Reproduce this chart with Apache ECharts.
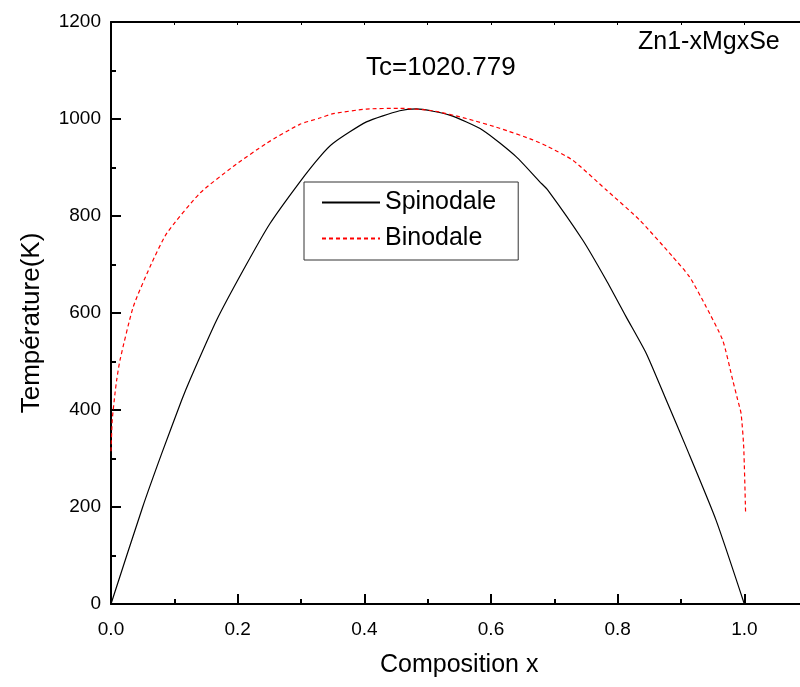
<!DOCTYPE html>
<html>
<head>
<meta charset="utf-8">
<script src="https://cdn.jsdelivr.net/npm/echarts@6/dist/echarts.min.js"></script>
<style>
html,body{margin:0;padding:0;background:#fff;}
#chart{width:800px;height:687px;}
</style>
</head>
<body>
<div id="chart"></div>
<script>
// Data
var seriesNames = ['Spinodale', 'Binodale'];
var spinodaleX = [0.0, 0.05, 0.08, 0.1115, 0.1246, 0.1667, 0.2087, 0.2508, 0.298, 0.3297, 0.3507, 0.4033, 0.4558, 0.482, 0.5347, 0.587, 0.64, 0.6767, 0.69, 0.745, 0.7818, 0.8134, 0.845, 0.8765, 0.908, 0.9553, 1.0];
var spinodaleT = [0, 200, 310, 420, 462, 585, 688, 784, 870, 922, 950, 994, 1017, 1020.8, 1008, 977, 922, 871, 853, 750, 668, 592, 517, 421, 324, 173, 0];
var binodaleX = [0.0, 0.002, 0.0063, 0.009, 0.0142, 0.0352, 0.0615, 0.0879, 0.1404, 0.1929, 0.2456, 0.298, 0.3297, 0.3507, 0.4033, 0.4558, 0.508, 0.561, 0.6136, 0.666, 0.69, 0.729, 0.7818, 0.8344, 0.8869, 0.9132, 0.9396, 0.9658, 0.9816, 0.9895, 0.9948, 0.999, 1.002];
var binodaleT = [315, 380, 434, 462, 503, 613, 695, 764, 847, 902, 950, 989, 1002, 1011, 1020.5, 1022, 1017, 1001, 981, 957, 943, 915, 854, 792, 716, 675, 613, 544, 462, 421, 393, 324, 187];
var xTicks = [0, 0.2, 0.4, 0.6, 0.8, 1.0];
var yTicks = [0, 200, 400, 600, 800, 1000, 1200];
var titleText = 'Tc=1020.779';
var compoundText = 'Zn1-xMgxSe';
var xAxisName = 'Composition x';
var yAxisName = 'Température(K)';

function pairs(xs, ys) {
  var out = [];
  for (var i = 0; i < xs.length; i++) out.push([xs[i], ys[i]]);
  return out;
}

var FONT = 'Liberation Sans, Arial, sans-serif';
var chart = echarts.init(document.getElementById('chart'), null, {renderer: 'canvas'});
chart.setOption({
  backgroundColor: '#fff',
  animation: false,
  grid: {left: 111, top: 22, right: -71, bottom: 83, containLabel: false, outerBoundsMode: 'none'},
  legend: {
    data: seriesNames,
    orient: 'vertical',
    left: 304, top: 182,
    itemWidth: 58, itemHeight: 14, itemGap: 11,
    padding: [8, 22, 9, 17],
    borderColor: '#333', borderWidth: 1,
    backgroundColor: '#fff',
    itemStyle: {opacity: 0},
    textStyle: {fontSize: 25, fontFamily: FONT, color: '#000'}
  },
  graphic: [
    {type: 'text', left: 366, top: 55, style: {text: titleText, font: '26px ' + FONT, fill: '#000'}},
    {type: 'text', left: 638, top: 30, style: {text: compoundText, font: '25px ' + FONT, fill: '#000'}},
    {type: 'text', left: 380, top: 653, style: {text: xAxisName, font: '25px ' + FONT, fill: '#000'}}
  ],
  xAxis: [{
    type: 'value', position: 'bottom', min: 0, max: 1.2, interval: 0.2,
    axisLine: {show: true, onZero: false, lineStyle: {color: '#000', width: 2}},
    axisTick: {show: true, inside: true, length: 10, lineStyle: {color: '#000', width: 2}},
    minorTick: {show: true, splitNumber: 2, length: 5, lineStyle: {color: '#000', width: 2}},
    splitLine: {show: false},
    axisLabel: {
      margin: 16, fontSize: 19, fontFamily: FONT, color: '#000',
      formatter: function (v) { return xTicks.indexOf(Math.round(v * 10) / 10) >= 0 ? v.toFixed(1) : ''; }
    }
  }, {
    type: 'value', position: 'top', min: 0, max: 1.2, interval: 0.1,
    axisLine: {show: true, onZero: false, lineStyle: {color: '#000', width: 2}},
    axisTick: {show: true, inside: true, length: 3, lineStyle: {color: '#000', width: 1}},
    splitLine: {show: false},
    axisLabel: {show: false}
  }],
  yAxis: {
    type: 'value', min: 0, max: 1200, interval: 200,
    name: yAxisName, nameLocation: 'middle', nameGap: 66, nameRotate: 90,
    nameTextStyle: {fontSize: 26, fontFamily: FONT, color: '#000', padding: [0, 20, 0, 0]},
    axisLine: {show: true, onZero: false, lineStyle: {color: '#000', width: 2}},
    axisTick: {show: true, inside: true, length: 10, lineStyle: {color: '#000', width: 2}},
    minorTick: {show: true, splitNumber: 2, length: 5, lineStyle: {color: '#000', width: 2}},
    splitLine: {show: false},
    axisLabel: {
      margin: 10, fontSize: 19, fontFamily: FONT, color: '#000',
      formatter: function (v) { return yTicks.indexOf(v) >= 0 ? String(v) : ''; }
    }
  },
  series: [{
    name: seriesNames[0], type: 'line', xAxisIndex: 0,
    data: pairs(spinodaleX, spinodaleT),
    showSymbol: false, symbol: 'none', smooth: 0.2,
    lineStyle: {color: '#000', width: 1.2},
    itemStyle: {color: '#000'}
  }, {
    name: seriesNames[1], type: 'line', xAxisIndex: 0,
    data: pairs(binodaleX, binodaleT),
    showSymbol: false, symbol: 'none', smooth: 0.2,
    lineStyle: {color: '#ff0000', width: 1.2, type: [4, 3]},
    itemStyle: {color: '#ff0000'}
  }]
});
</script>
</body>
</html>
